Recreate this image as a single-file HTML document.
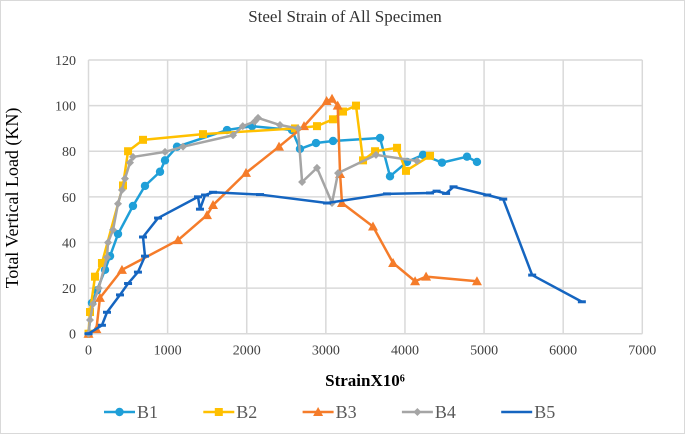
<!DOCTYPE html>
<html><head><meta charset="utf-8"><style>
html,body{margin:0;padding:0;background:#fff;}
svg{display:block;font-family:"Liberation Serif",serif;}
</style></head><body>
<svg id="chart" width="685" height="434" viewBox="0 0 685 434">
<rect x="0.5" y="0.5" width="684" height="433" fill="#fff" stroke="#d9d9d9"/>
<text x="345" y="22" text-anchor="middle" font-size="17" fill="#333">Steel Strain of All Specimen</text>
<g id="grid"></g><g id="series"></g><g id="axes"></g>
<text x="18" y="198" text-anchor="middle" font-size="18" fill="#000" transform="rotate(-90 18 198)">Total Vertical Load (KN)</text>
<text x="365" y="386" text-anchor="middle" font-size="17" font-weight="bold" fill="#000">StrainX10⁶</text>
<g id="legend"></g>
</svg>
<script>
const xTicks=[0,1000,2000,3000,4000,5000,6000,7000];
const yTicks=[0,20,40,60,80,100,120];
const seriesNames=["B1","B2","B3","B4","B5"];
const seriesColors=["#1f9fd8","#ffc000","#f57c2a","#a5a5a5","#1565c0"];
const b1X=[0,44,107,209,272,373,562,714,904,967,1119,1751,2067,2572,2673,2876,3091,3685,3811,4026,4228,4468,4784,4910];
const b1Y=[0,13.5,19,28,34,43.7,56,64.8,71,76,82,89.3,91,89.3,81,83.6,84.5,85.8,69,75.3,78.4,75,77.6,75.3];
const b2X=[0,19,82,170,436,500,689,1447,2610,2888,3090,3217,3381,3470,3622,3900,4013,4317];
const b2Y=[0,9.5,25,31,65,80,85,87.5,90,91,94,97.4,100,76,80,81.5,71.4,78];
const b3X=[0,100,145,423,1131,1498,1574,1991,2408,2724,3010,3078,3150,3180,3204,3596,3850,4128,4267,4910];
const b3Y=[0,2,15.7,28,41,52,56.4,70.5,82,91,102,103,100,70,57.3,47,31,23,25,23];
const b4X=[0,19,57,130,234,247,310,373,423,461,525,562,967,1195,1827,1950,2100,2143,2420,2648,2700,2888,3078,3154,3634,4153];
const b4Y=[0,6,13,20,33.5,40,45.5,57,63,68,75,77.5,79.7,82,87,91,93,94.6,91.5,90,66.5,72.7,57.3,70.4,78.4,75.7];
const b5X=[0,170,234,398,500,625,714,689,879,1384,1409,1473,1574,2168,3015,3773,4317,4400,4520,4614,5040,5242,5608,6236];
const b5Y=[0,3.7,9.4,17,22,27,34,42.4,50.7,60,54.6,60.8,62,61,57.3,61.3,61.7,62.5,61.5,64.4,60.8,59,25.7,14];
const allX=[b1X,b2X,b3X,b4X,b5X], allY=[b1Y,b2Y,b3Y,b4Y,b5Y];
const X0=88.5,X1=642.3,Y0=333.7,Y1=60;
const sx=v=>X0+(v-0)/7000*(X1-X0);
const sy=v=>Y0-(v-0)/120*(Y0-Y1);
const NS="http://www.w3.org/2000/svg";
function mk(tag,attrs,parent){const e=document.createElementNS(NS,tag);for(const k in attrs)e.setAttribute(k,attrs[k]);parent.appendChild(e);return e;}
const grid=document.getElementById('grid'),axes=document.getElementById('axes'),ser=document.getElementById('series'),leg=document.getElementById('legend');
xTicks.forEach(t=>{
 const l=mk('line',{x1:sx(t),x2:sx(t),y1:Y1,y2:Y0,stroke:'#d9d9d9','stroke-width':1.5},grid);
 
 
 const tx=mk('text',{x:sx(t),y:Y0+21,'text-anchor':'middle','font-size':14,fill:'#404040'},axes);
 tx.textContent=t;
 
 
});
yTicks.forEach(t=>{
 const l=mk('line',{x1:X0,x2:X1,y1:sy(t),y2:sy(t),stroke:'#d9d9d9','stroke-width':1.5},grid);
 
 
 const tx=mk('text',{x:76,y:sy(t)+5,'text-anchor':'end','font-size':14,fill:'#404040'},axes);
 tx.textContent=t;
 
 
});
function marker(g,i,x,y){
 const c=seriesColors[i];let m;
 if(i===0)m=mk('circle',{cx:x,cy:y,r:4.2,fill:c},g);
 else if(i===1)m=mk('rect',{x:x-4,y:y-4,width:8,height:8,fill:c},g);
 else if(i===2)m=mk('polygon',{points:`${x},${y-5} ${x+5},${y+4} ${x-5},${y+4}`,fill:c},g);
 else if(i===3)m=mk('polygon',{points:`${x},${y-4} ${x+4},${y} ${x},${y+4} ${x-4},${y}`,fill:c},g);
 else m=mk('line',{x1:x-4,x2:x+4,y1:y,y2:y,stroke:c,'stroke-width':3},g);
 return m;
}
for(let i=0;i<5;i++){
 const g=mk('g',{},ser);
 
 
 const pts=allX[i].map((v,j)=>sx(v)+','+sy(allY[i][j])).join(' ');
 const pl=mk('polyline',{points:pts,fill:'none',stroke:seriesColors[i],'stroke-width':2.5,'stroke-linejoin':'round'},g);
 
 
 allX[i].forEach((v,j)=>{
  const m=marker(g,i,sx(v),sy(allY[i][j]));
  
  
 });
 const lg=mk('g',{},leg);
 
 
 const lx=104+i*99.3,ly=412;
 mk('line',{x1:lx,x2:lx+31,y1:ly,y2:ly,stroke:seriesColors[i],'stroke-width':2.5},lg);
 if(i<4)marker(lg,i,lx+15.5,ly);
 const t=mk('text',{x:lx+33,y:ly+6,'font-size':18,fill:'#595959'},lg);
 t.textContent=seriesNames[i];
}
</script>
</body></html>
